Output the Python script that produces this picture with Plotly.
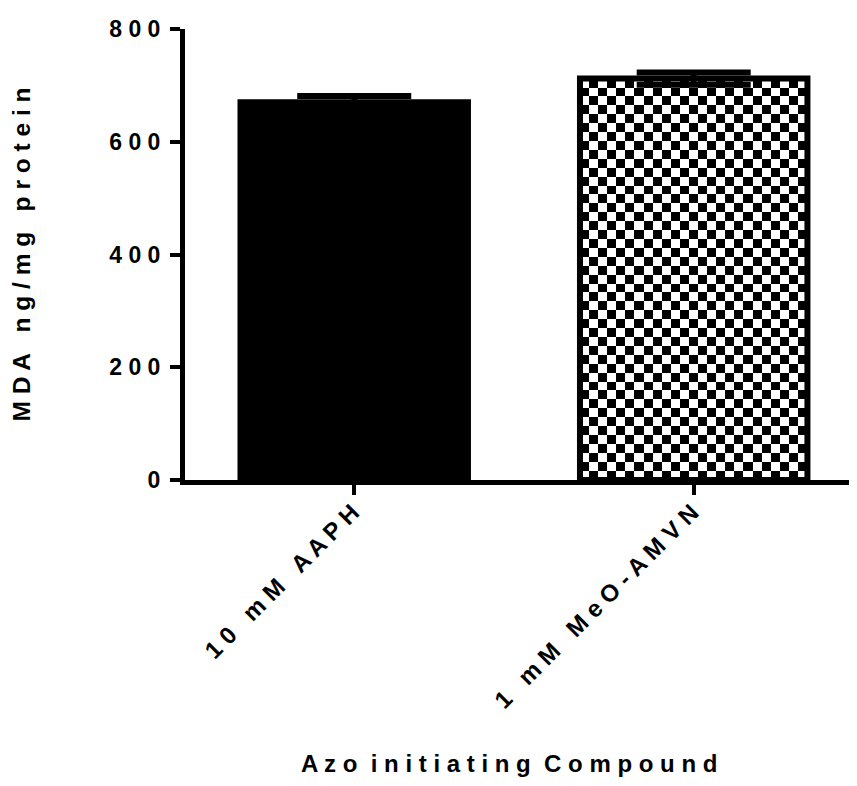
import plotly.graph_objects as go

# ---- data ----
categories = ["10 mM AAPH", "1 mM MeO-AMVN"]
mda_mean = [670, 712]
mda_err = [11, 11]
y_tick_values = [0, 200, 400, 600, 800]
x_title = "Azo initiating Compound"
y_title = "MDA ng/mg protein"

# ---- style ----
BAR_WIDTH = 0.67
CHECK_COLS = 25
CHECK_ROWS = 45
FONT = "Liberation Sans, Arial, sans-serif"
PAGE_OFFSET = 8  # browser body margin


def spaced(text, word_gap=3):
    words = text.split(" ")
    return ("\u00a0" * word_gap).join(" ".join(list(w)) for w in words)


x_pos = list(range(len(categories)))

fig = go.Figure()

# checkerboard texture for the second bar (drawn beneath the bar outline)
i2 = 1
dx = BAR_WIDTH / CHECK_COLS
dy = mda_mean[i2] / CHECK_ROWS
texture = [[(r + c) % 2 for c in range(CHECK_COLS)] for r in range(CHECK_ROWS)]
fig.add_trace(go.Heatmap(
    z=texture,
    x0=x_pos[i2] - BAR_WIDTH / 2 + dx / 2, dx=dx,
    y0=dy / 2, dy=dy,
    colorscale=[[0, "white"], [1, "black"]],
    showscale=False, zsmooth=False, hoverinfo="skip",
))

fig.add_trace(go.Bar(
    x=x_pos, y=mda_mean, width=BAR_WIDTH,
    marker=dict(color=["black", "rgba(0,0,0,0)"],
                line=dict(color="black", width=6)),
    error_y=dict(type="data", array=mda_err, visible=True,
                 color="black", thickness=6, width=57),
    showlegend=False,
))

left = 178 - PAGE_OFFSET
top = 23 - PAGE_OFFSET
bottom_px = 480 - PAGE_OFFSET
W, H = 857, 786
plot_w = W - left - PAGE_OFFSET
plot_h = bottom_px - top

fig.update_layout(
    width=W, height=H,
    margin=dict(l=left, r=PAGE_OFFSET, t=top, b=H - bottom_px),
    plot_bgcolor="white", paper_bgcolor="white",
    font=dict(family=FONT, color="black"),
    showlegend=False,
    annotations=[dict(
        text=spaced(x_title, 2), showarrow=False,
        xref="paper", yref="paper",
        x=(505 - PAGE_OFFSET - left) / plot_w,
        y=(bottom_px - (767 - PAGE_OFFSET)) / plot_h,
        xanchor="center", yanchor="middle",
        font=dict(size=24, weight="bold", family=FONT),
    )],
)
fig.update_xaxes(
    range=[-0.4985, 1.481],
    tickvals=x_pos, ticktext=[spaced(c) for c in categories],
    tickangle=-45,
    tickfont=dict(size=24, weight="bold", family=FONT),
    ticklabelshift=-2, ticklabelstandoff=-6,
    ticks="outside", ticklen=10, tickwidth=4, tickcolor="black",
    showline=True, linewidth=5, linecolor="black",
    showgrid=False, zeroline=False,
)
fig.update_yaxes(
    range=[0, 800],
    tickvals=y_tick_values, ticktext=[" ".join(str(v)) for v in y_tick_values],
    tickfont=dict(size=23, weight="bold", family=FONT),
    ticklabelstandoff=5,
    ticks="outside", ticklen=10, tickwidth=4, tickcolor="black",
    showline=True, linewidth=5, linecolor="black",
    showgrid=False, zeroline=False,
    title=dict(text=spaced(y_title), font=dict(size=24.5, weight="bold", family=FONT), standoff=76),
)

fig.write_html("out.html")
